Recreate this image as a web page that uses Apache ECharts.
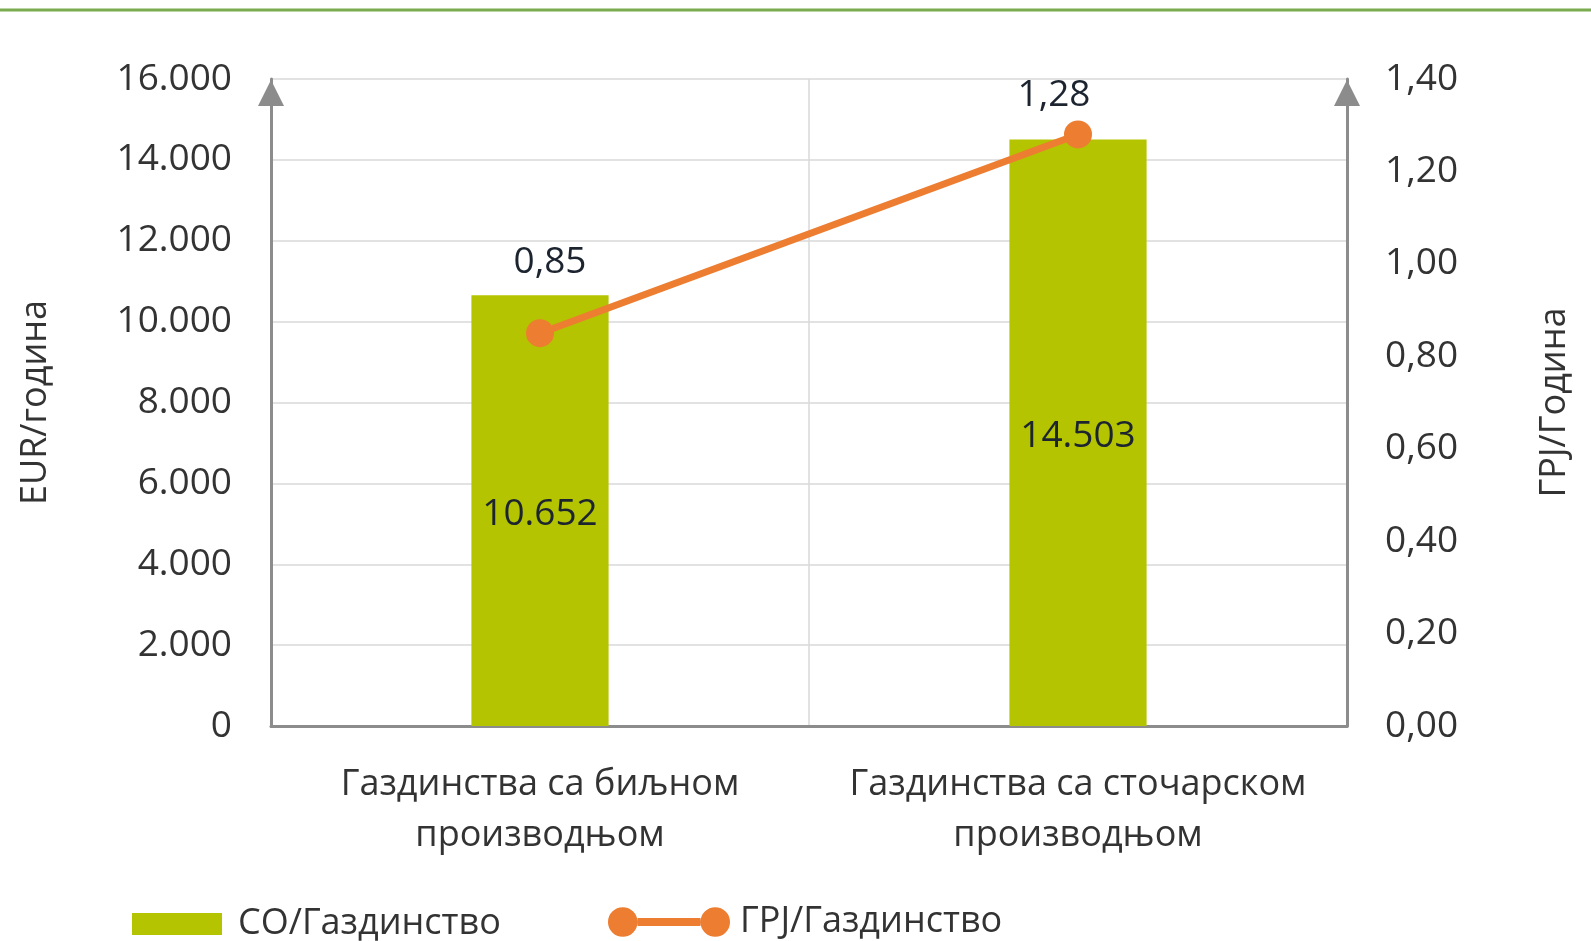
<!DOCTYPE html>
<html>
<head>
<meta charset="utf-8">
<script src="https://cdn.jsdelivr.net/npm/echarts@6/dist/echarts.min.js"></script>
<style>
  html, body { margin: 0; padding: 0; background: #fff; }
  #chart { width: 1591px; height: 941px; }
</style>
</head>
<body>
<div id="chart"></div>
<script>
// podaci
const categories = ['Газдинства са биљном производњом', 'Газдинства са сточарском производњом'];
const soValues = [10652, 14503];
const grjValues = [0.85, 1.28];
const leftTicks = [0, 2000, 4000, 6000, 8000, 10000, 12000, 14000, 16000];
const rightTicks = [0, 0.2, 0.4, 0.6, 0.8, 1.0, 1.2, 1.4];
const seriesNames = ['СО/Газдинство', 'ГРЈ/Газдинство'];
const axisNames = ['EUR/година', 'ГРЈ/Година'];

const font = '"Open Sans", sans-serif';
const txt = '#333333';
const dark = '#1c2430';
// pomeranje natpisa za tačke linije
const lineLabelOffsets = [[10, -71], [-24, -39]];

const fmtThousands = v => String(Math.round(v)).replace(/\B(?=(\d{3})+(?!\d))/g, '.');
const fmtDec = v => v.toFixed(2).replace('.', ',');

const chart = echarts.init(document.getElementById('chart'));

const axisLineStyle = {
    show: true,
    symbol: ['none', 'triangle'],
    symbolSize: [26, 26],
    symbolOffset: [0, -14],
    lineStyle: { color: '#8c8c8c', width: 3 }
};

const option = {
    backgroundColor: '#fff',
    animation: false,
    textStyle: { fontFamily: font },
    graphic: [{
        type: 'line',
        shape: { x1: 0, y1: 10, x2: 1591, y2: 10 },
        style: { stroke: '#7aab4f', lineWidth: 3 }
    }],
    grid: { left: 271, right: 244, top: 79, bottom: 215, containLabel: false },
    legend: [{
        data: [{ name: seriesNames[0], icon: 'rect' }],
        left: 127,
        top: 901,
        itemWidth: 90,
        itemHeight: 22,
        textStyle: { fontFamily: font, fontSize: 36, color: txt, padding: [0, 0, 0, 11] }
    }, {
        data: [{
            name: seriesNames[1],
            icon: 'path://M0,15 a15,15 0 1,1 30,0 a15,15 0 1,1 -30,0 Z M94,15 a15,15 0 1,1 30,0 a15,15 0 1,1 -30,0 Z M30,11 L94,11 L94,19 L30,19 Z'
        }],
        left: 603,
        top: 899,
        itemWidth: 122,
        itemHeight: 30,
        textStyle: { fontFamily: font, fontSize: 36, color: txt, padding: [0, 0, 0, 5] }
    }],
    xAxis: {
        type: 'category',
        data: categories,
        axisLine: { lineStyle: { color: '#8c8c8c', width: 3 } },
        axisTick: { show: false },
        splitLine: { show: true, lineStyle: { color: '#d9d9d9', width: 1.5 } },
        axisLabel: {
            interval: 0,
            color: txt,
            fontFamily: font,
            fontSize: 36,
            lineHeight: 51,
            margin: 33,
            formatter: v => {
                const w = v.split(' ');
                return w.slice(0, 3).join(' ') + '\n' + w.slice(3).join(' ');
            }
        }
    },
    yAxis: [{
        type: 'value',
        min: leftTicks[0],
        max: leftTicks[leftTicks.length - 1],
        interval: leftTicks[1] - leftTicks[0],
        name: axisNames[0],
        nameLocation: 'middle',
        nameRotate: 90,
        nameGap: 217,
        nameTextStyle: { color: txt, fontFamily: font, fontSize: 36 },
        axisLine: axisLineStyle,
        axisTick: { show: false },
        splitLine: { show: true, lineStyle: { color: '#d9d9d9', width: 1.5 } },
        axisLabel: { color: txt, fontFamily: font, fontSize: 37, margin: 39, formatter: fmtThousands }
    }, {
        type: 'value',
        position: 'right',
        min: rightTicks[0],
        max: rightTicks[rightTicks.length - 1],
        interval: 0.2,
        name: axisNames[1],
        nameLocation: 'middle',
        nameRotate: 90,
        nameGap: 190,
        nameTextStyle: { color: txt, fontFamily: font, fontSize: 36 },
        axisLine: axisLineStyle,
        axisTick: { show: false },
        splitLine: { show: false },
        axisLabel: { color: txt, fontFamily: font, fontSize: 37, margin: 38, formatter: fmtDec }
    }],
    series: [{
        name: seriesNames[0],
        type: 'bar',
        yAxisIndex: 0,
        barWidth: '25.5%',
        itemStyle: { color: '#b5c400' },
        label: {
            show: true,
            position: 'inside',
            offset: [0, 4],
            color: dark,
            fontFamily: font,
            fontSize: 37,
            formatter: p => fmtThousands(p.value)
        },
        data: soValues
    }, {
        name: seriesNames[1],
        type: 'line',
        yAxisIndex: 1,
        symbol: 'circle',
        symbolSize: 28,
        lineStyle: { color: '#ed7d31', width: 7 },
        itemStyle: { color: '#ed7d31' },
        data: grjValues.map((v, i) => ({
            value: v,
            label: {
                show: true,
                position: 'inside',
                offset: lineLabelOffsets[i],
                color: dark,
                fontFamily: font,
                fontSize: 37,
                formatter: p => fmtDec(p.value)
            }
        }))
    }]
};

chart.setOption(option);
</script>
</body>
</html>
